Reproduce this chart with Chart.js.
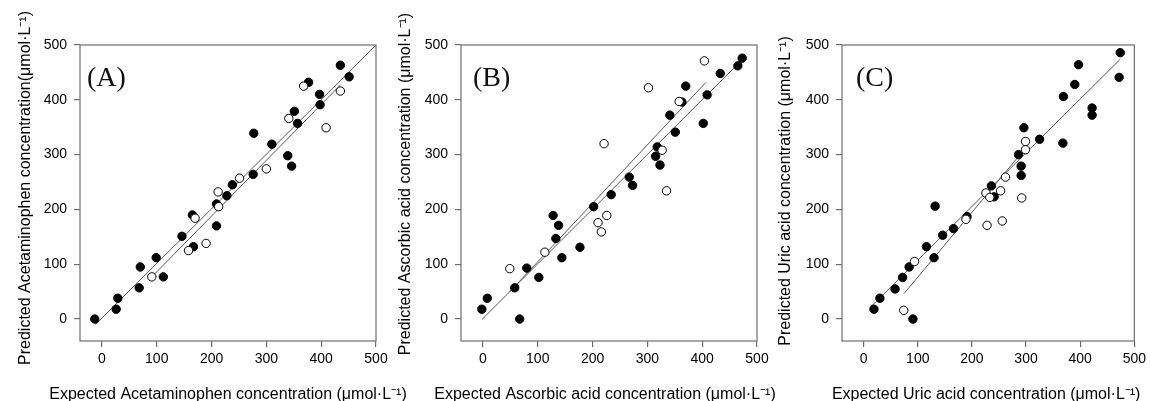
<!DOCTYPE html>
<html>
<head>
<meta charset="utf-8">
<script src="https://cdn.jsdelivr.net/npm/chart.js@4.4.1/dist/chart.umd.min.js"></script>
<style>
  html, body { margin: 0; padding: 0; background: #ffffff; }
  body { width: 1150px; height: 401px; position: relative; overflow: hidden; }
  canvas { position: absolute; top: 0; left: 0; }
</style>
</head>
<body>
<canvas id="cA" width="1150" height="401"></canvas>
<canvas id="cB" width="1150" height="401"></canvas>
<canvas id="cC" width="1150" height="401"></canvas>
<script>
// ---- shared axis ticks ----
const tickValues = [0, 100, 200, 300, 400, 500];
const axisMin = -40;
const axisMax = 500;

// ---- Panel A: Acetaminophen ----
const panelLabelA = "(A)";
const yTitleA = "Predicted Acetaminophen concentration(\u03bcmol\u00b7L\u207b\u00b9)";
const xTitleA = "Expected Acetaminophen concentration (\u03bcmol\u00b7L\u207b\u00b9)";
const acetFilledX = [-13, 26, 29, 68, 70, 99, 112, 146, 165, 167, 209, 209, 228, 238, 276, 277, 310, 339, 346, 351, 357, 377, 397, 398, 435, 451];
const acetFilledY = [0, 18, 38, 57, 95, 112, 77, 151, 190, 132, 210, 170, 225, 245, 264, 339, 319, 298, 279, 379, 357, 432, 410, 391, 463, 442];
const acetOpenX = [91, 158, 170, 190, 212, 213, 251, 300, 341, 368, 409, 435];
const acetOpenY = [77, 125, 184, 138, 232, 205, 257, 274, 366, 425, 349, 416];
const acetFitFilledX = [-12, 500];
const acetFitFilledY = [-10, 500];
const acetFitOpenX = [92, 435];
const acetFitOpenY = [78, 427];

// ---- Panel B: Ascorbic acid ----
const panelLabelB = "(B)";
const yTitleB = "Predicted Ascorbic acid concentration (\u03bcmol\u00b7L\u207b\u00b9)";
const xTitleB = "Expected Ascorbic acid concentration (\u03bcmol\u00b7L\u207b\u00b9)";
const ascFilledX = [-2, 8, 67, 58, 80, 102, 128, 138, 133, 144, 177, 202, 234, 267, 273, 315, 318, 323, 341, 351, 363, 370, 402, 409, 433, 465, 473];
const ascFilledY = [18, 38, 0, 57, 93, 76, 189, 171, 147, 112, 131, 205, 227, 259, 244, 297, 314, 281, 372, 341, 396, 425, 357, 409, 448, 462, 476];
const ascOpenX = [49, 113, 210, 216, 226, 221, 302, 327, 335, 358, 404];
const ascOpenY = [92, 122, 176, 159, 189, 320, 422, 308, 234, 397, 471];
const ascFitFilledX = [-2, 463];
const ascFitFilledY = [-1, 463];
const ascFitOpenX = [49, 407];
const ascFitOpenY = [50, 432];

// ---- Panel C: Uric acid ----
const panelLabelC = "(C)";
const yTitleC = "Predicted Uric acid concentration (\u03bcmol\u00b7L\u207b\u00b9)";
const xTitleC = "Expected Uric acid concentration (\u03bcmol\u00b7L\u207b\u00b9)";
const uricFilledX = [19, 30, 58, 72, 84, 91, 116, 130, 132, 146, 166, 191, 236, 241, 286, 291, 291, 296, 325, 368, 369, 390, 397, 422, 422, 472, 474];
const uricFilledY = [18, 38, 55, 76, 95, 0, 132, 112, 206, 153, 165, 187, 243, 223, 300, 279, 262, 349, 328, 321, 406, 428, 464, 385, 372, 441, 486];
const uricOpenX = [74, 94, 189, 228, 226, 233, 253, 256, 262, 292, 299, 299];
const uricOpenY = [16, 105, 182, 171, 230, 222, 234, 179, 259, 221, 324, 309];
const uricFitFilledX = [14, 474];
const uricFitFilledY = [23, 474];
const uricFitOpenX = [75, 300];
const uricFitOpenY = [47, 313];

function pts(xs, ys) { return xs.map((x, i) => ({ x: x, y: ys[i] })); }

const sansFont = "'Liberation Sans', Arial, sans-serif";

const framePlugin = {
  id: 'frameAndLabel',
  afterDraw(chart, args, opts) {
    const { ctx, chartArea } = chart;
    const { left, top, right, bottom } = chartArea;
    ctx.save();
    // box frame
    ctx.strokeStyle = '#6e6e6e';
    ctx.lineWidth = 1.2;
    ctx.strokeRect(left, top, right - left, bottom - top);
    // panel letter
    ctx.fillStyle = '#111111';
    ctx.font = "28px 'Liberation Serif', 'Times New Roman', serif";
    ctx.textAlign = 'left';
    ctx.textBaseline = 'alphabetic';
    ctx.fillText(opts.text, left + opts.dx, opts.baseline);
    // axis titles
    ctx.fillStyle = '#000000';
    ctx.font = "16px " + sansFont;
    ctx.textAlign = 'center';
    ctx.fillText(opts.xTitle, (left + right) / 2 + opts.xTitleDx, 398.5);
    ctx.translate(opts.yTitleX, opts.yTitleCenter);
    ctx.rotate(-Math.PI / 2);
    ctx.fillText(opts.yTitle, 0, 0);
    ctx.restore();
  }
};

function makeChart(id, cfg) {
  const tickFixer = (scale) => { scale.ticks = tickValues.map(v => ({ value: v })); };
  return new Chart(document.getElementById(id), {
    type: 'scatter',
    data: {
      datasets: [
        {
          data: pts(cfg.openX, cfg.openY),
          backgroundColor: '#ffffff', borderColor: '#000000', borderWidth: 1,
          pointRadius: 4.2, pointHoverRadius: 4.2
        },
        {
          data: pts(cfg.filledX, cfg.filledY),
          backgroundColor: '#000000', borderColor: '#000000', borderWidth: 1,
          pointRadius: 4.2, pointHoverRadius: 4.2
        },
        {
          data: pts(cfg.fitFilledX, cfg.fitFilledY),
          showLine: true, pointRadius: 0, borderColor: '#5a5a5a', borderWidth: 1, fill: false
        },
        {
          data: pts(cfg.fitOpenX, cfg.fitOpenY),
          showLine: true, pointRadius: 0, borderColor: '#5a5a5a', borderWidth: 1, fill: false
        }
      ]
    },
    options: {
      responsive: false,
      animation: false,
      devicePixelRatio: 1,
      layout: { padding: { left: cfg.padLeft, right: cfg.padRight, top: 45, bottom: 0 } },
      plugins: {
        legend: { display: false },
        tooltip: { enabled: false },
        frameAndLabel: {
          text: cfg.label, dx: cfg.labelDx, baseline: 86,
          xTitle: cfg.xTitle, xTitleDx: cfg.xTitleDx,
          yTitle: cfg.yTitle, yTitleX: cfg.padLeft + 30, yTitleCenter: cfg.yTitleCenter
        }
      },
      scales: {
        x: {
          type: 'linear', min: axisMin, max: axisMax,
          afterBuildTicks: tickFixer,
          afterFit: (s) => { s.height = 60; },
          border: { display: false },
          grid: { display: true, drawOnChartArea: false, drawTicks: true, tickLength: 6, tickColor: '#6e6e6e', lineWidth: 1.2 },
          ticks: { color: '#000000', padding: 4, font: { family: sansFont, size: 14 }, maxRotation: 0 },
          title: { display: false }
        },
        y: {
          type: 'linear', min: axisMin, max: axisMax,
          afterBuildTicks: tickFixer,
          afterFit: (s) => { s.width = cfg.yWidth; },
          border: { display: false },
          grid: { display: true, drawOnChartArea: false, drawTicks: true, tickLength: 6, tickColor: '#6e6e6e', lineWidth: 1.2 },
          ticks: { color: '#000000', padding: 7, font: { family: sansFont, size: 14 } },
          title: { display: false }
        }
      }
    },
    plugins: [framePlugin]
  });
}

makeChart('cA', {
  label: panelLabelA, labelDx: 7, xTitle: xTitleA, yTitle: yTitleA,
  filledX: acetFilledX, filledY: acetFilledY, openX: acetOpenX, openY: acetOpenY,
  fitFilledX: acetFitFilledX, fitFilledY: acetFitFilledY, fitOpenX: acetFitOpenX, fitOpenY: acetFitOpenY,
  padLeft: 0, yWidth: 80, padRight: 774, xTitleDx: 0, yTitleCenter: 188
});
makeChart('cB', {
  label: panelLabelB, labelDx: 12, xTitle: xTitleB, yTitle: yTitleB,
  filledX: ascFilledX, filledY: ascFilledY, openX: ascOpenX, openY: ascOpenY,
  fitFilledX: ascFitFilledX, fitFilledY: ascFitFilledY, fitOpenX: ascFitOpenX, fitOpenY: ascFitOpenY,
  padLeft: 380, yWidth: 81, padRight: 393, xTitleDx: -4, yTitleCenter: 184
});
makeChart('cC', {
  label: panelLabelC, labelDx: 14, xTitle: xTitleC, yTitle: yTitleC,
  filledX: uricFilledX, filledY: uricFilledY, openX: uricOpenX, openY: uricOpenY,
  fitFilledX: uricFitFilledX, fitFilledY: uricFitFilledY, fitOpenX: uricFitOpenX, fitOpenY: uricFitOpenY,
  padLeft: 760, yWidth: 82, padRight: 12, xTitleDx: -2, yTitleCenter: 191
});
</script>
</body>
</html>
